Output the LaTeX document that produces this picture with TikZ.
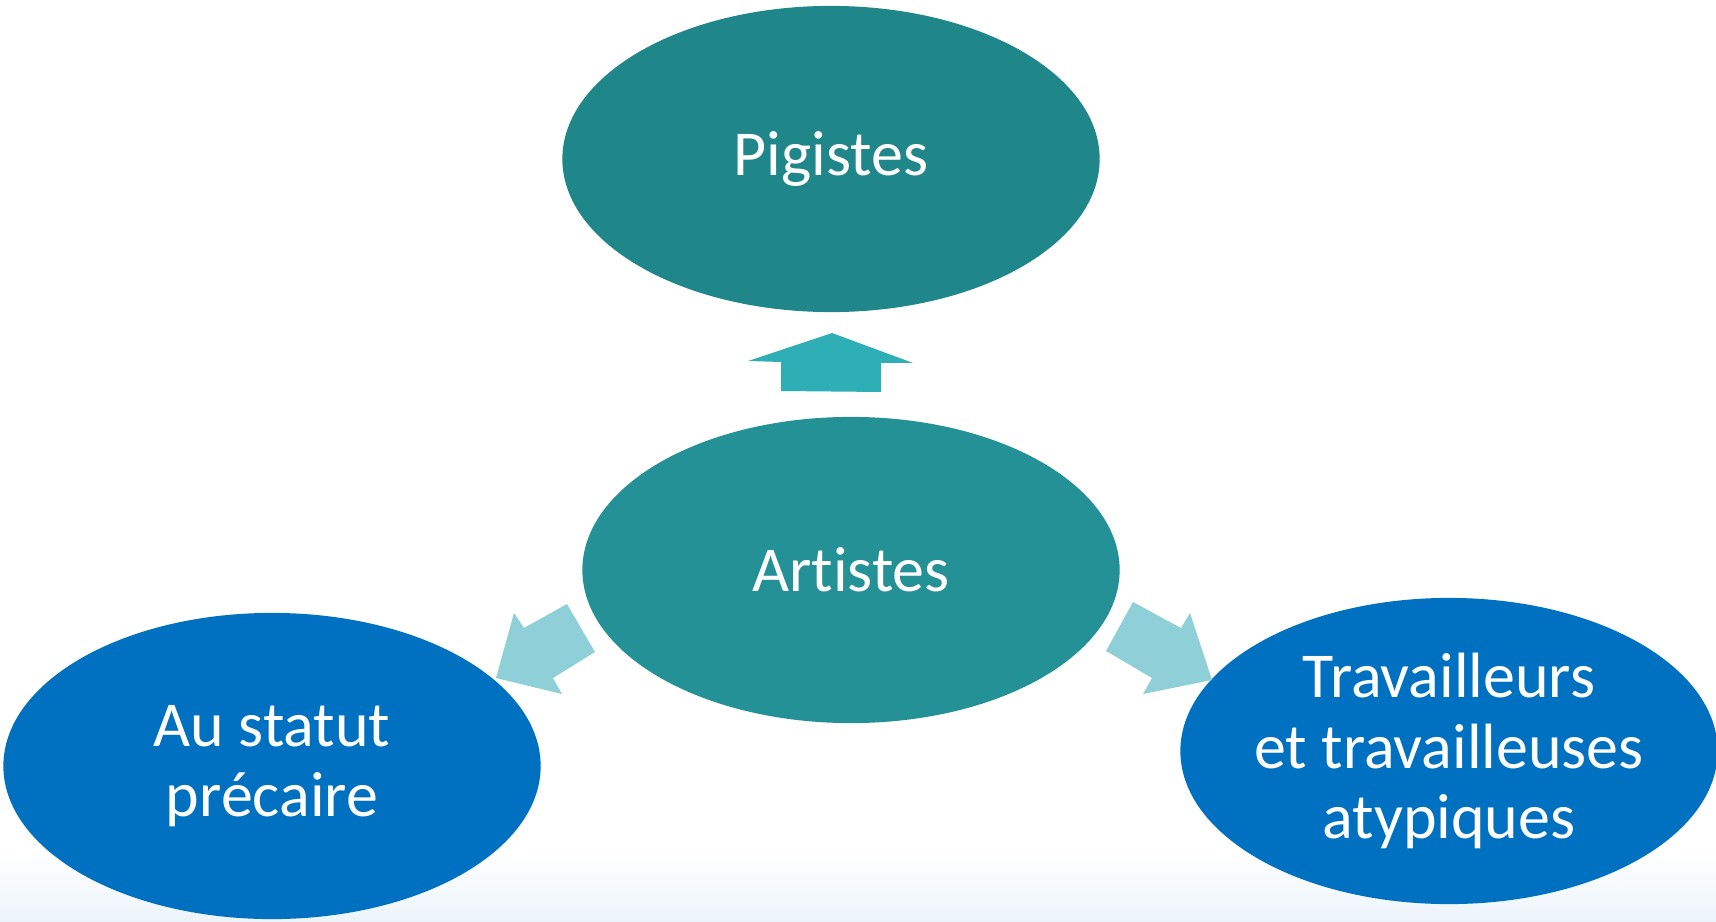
\documentclass[tikz,border=0pt]{standalone}
\usepackage{fontspec}
\setmainfont[Ligatures=NoCommon]{Carlito}
\usetikzlibrary{shapes.geometric, positioning}
\definecolor{pigteal}{RGB}{31,134,138}
\definecolor{artteal}{RGB}{35,145,150}
\definecolor{statblue}{RGB}{0,112,192}
\definecolor{uparrow}{RGB}{46,175,182}
\definecolor{sidearrow}{RGB}{143,207,215}
\definecolor{bgfoot}{RGB}{236,244,250}

\begin{document}
\begin{tikzpicture}[x=0.01cm, y=-0.01cm,
        bubble/.style={ellipse, inner sep=0pt, minimum width=5.37cm, minimum height=3.06cm},
        bubbletext/.style={text=white, align=center, font=\fontsize{18.2pt}{20pt}\selectfont}]
            \useasboundingbox (0,0) rectangle (1716,922);
            \shade[top color=white, bottom color=bgfoot] (0,850) rectangle (1716,922);

            \node[bubble, fill=pigteal] (pig) at (831,159) {};
            \node[bubble, fill=artteal] (art) at (851,570) {};
            \node[bubble, fill=statblue] (prec) at (272,766) {};
            \node[bubble, fill=statblue] (atyp) at (1449,751) {};

            \node[bubbletext] (pigtxt) at (pig) {Pigistes};
            \node[bubbletext] (arttxt) at (art) {Artistes};
            \node[bubbletext] (prectxt) at (prec) {Au statut\\pr\'ecaire};
            \node[bubbletext] (atyptxt) at (atyp) {Travailleurs\\et travailleuses\\atypiques};

            % arrows
            \fill[uparrow] (832,333) -- (913,363) -- (881,363) -- (881,392)
                -- (781,391) -- (781,362) -- (748,361) -- cycle;
            \fill[sidearrow] (496,678) -- (514,613) -- (524,628) -- (567,604)
                -- (595,652) -- (553,678) -- (562,694) -- cycle;
            \fill[sidearrow] (1212,680) -- (1190,613) -- (1181,628) -- (1133,602)
                -- (1106,651) -- (1152,678) -- (1143,694) -- cycle;
        \end{tikzpicture}
\end{document}
